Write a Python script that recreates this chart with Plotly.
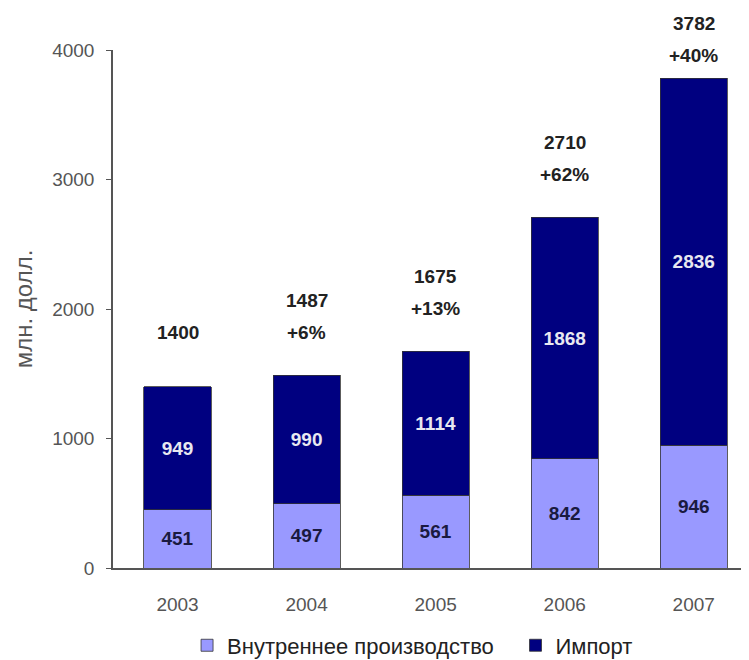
import plotly.graph_objects as go

years = ["2003", "2004", "2005", "2006", "2007"]
domestic = [451, 497, 561, 842, 946]
imports = [949, 990, 1114, 1868, 2836]
totals = [1400, 1487, 1675, 2710, 3782]
growth = ["", "+6%", "+13%", "+62%", "+40%"]

NAVY = "#000080"
LAV = "#9999FF"
FONT = "Liberation Sans, Arial, sans-serif"

fig = go.Figure()
fig.add_trace(go.Bar(
    x=years, y=domestic, name="Внутреннее производство", legend="legend",
    marker=dict(color=LAV, line=dict(color="#333333", width=0.8)),
    text=[str(v) for v in domestic], textposition="inside",
    insidetextanchor="middle", constraintext="none",
    textfont=dict(color="#1a1a40", size=19, family=FONT, weight="bold"),
))
fig.add_trace(go.Bar(
    x=years, y=imports, name="Импорт", legend="legend2",
    marker=dict(color=NAVY, line=dict(color="#333333", width=0.8)),
    text=[str(v) for v in imports], textposition="inside",
    insidetextanchor="middle", constraintext="none",
    textfont=dict(color="#e8e8f0", size=19, family=FONT, weight="bold"),
))

for i, (yr, tot, g) in enumerate(zip(years, totals, growth)):
    top_clip = -20 if i == len(years) - 1 else 0
    if g:
        fig.add_annotation(x=i, y=tot, xref="x", yref="y", text=f"<b>{g}</b>", showarrow=False,
                           yshift=43 + top_clip, font=dict(size=19, color="#222", family=FONT))
        fig.add_annotation(x=i, y=tot, xref="x", yref="y", text=f"<b>{tot}</b>", showarrow=False,
                           yshift=75 + top_clip, font=dict(size=19, color="#222", family=FONT))
    else:
        fig.add_annotation(x=i, y=tot, xref="x", yref="y", text=f"<b>{tot}</b>", showarrow=False,
                           yshift=54, font=dict(size=19, color="#222", family=FONT))

leg_common = dict(orientation="h", xanchor="left", y=-0.109, yanchor="top",
                  font=dict(size=22, color="#222"), itemclick=False, bgcolor="rgba(0,0,0,0)")

fig.update_layout(
    width=749, height=660,
    barmode="stack", bargap=0.48,
    paper_bgcolor="white", plot_bgcolor="white",
    margin=dict(l=105, r=0, t=42, b=100),
    font=dict(family=FONT, size=19, color="#555"),
    showlegend=True,
    legend=dict(x=0.115, **leg_common),
    legend2=dict(x=0.625, **leg_common),
    xaxis=dict(type="category", range=[-0.5, 4.49], showline=True, linecolor="#555", linewidth=1.5,
               ticks="", showgrid=False, tickfont=dict(size=19, color="#555"),
               ticklabelstandoff=18),
    yaxis=dict(range=[0, 4000], tickvals=[0, 1000, 2000, 3000, 4000], showline=True,
               linecolor="#555", linewidth=1.5, ticks="outside", ticklen=5, tickcolor="#555",
               showgrid=False, zeroline=False, tickfont=dict(size=19, color="#555"),
               ticklabelstandoff=8,
               title=dict(text="млн. долл.", font=dict(size=24, color="#555"), standoff=13)),
)

fig.write_html("out.html")
